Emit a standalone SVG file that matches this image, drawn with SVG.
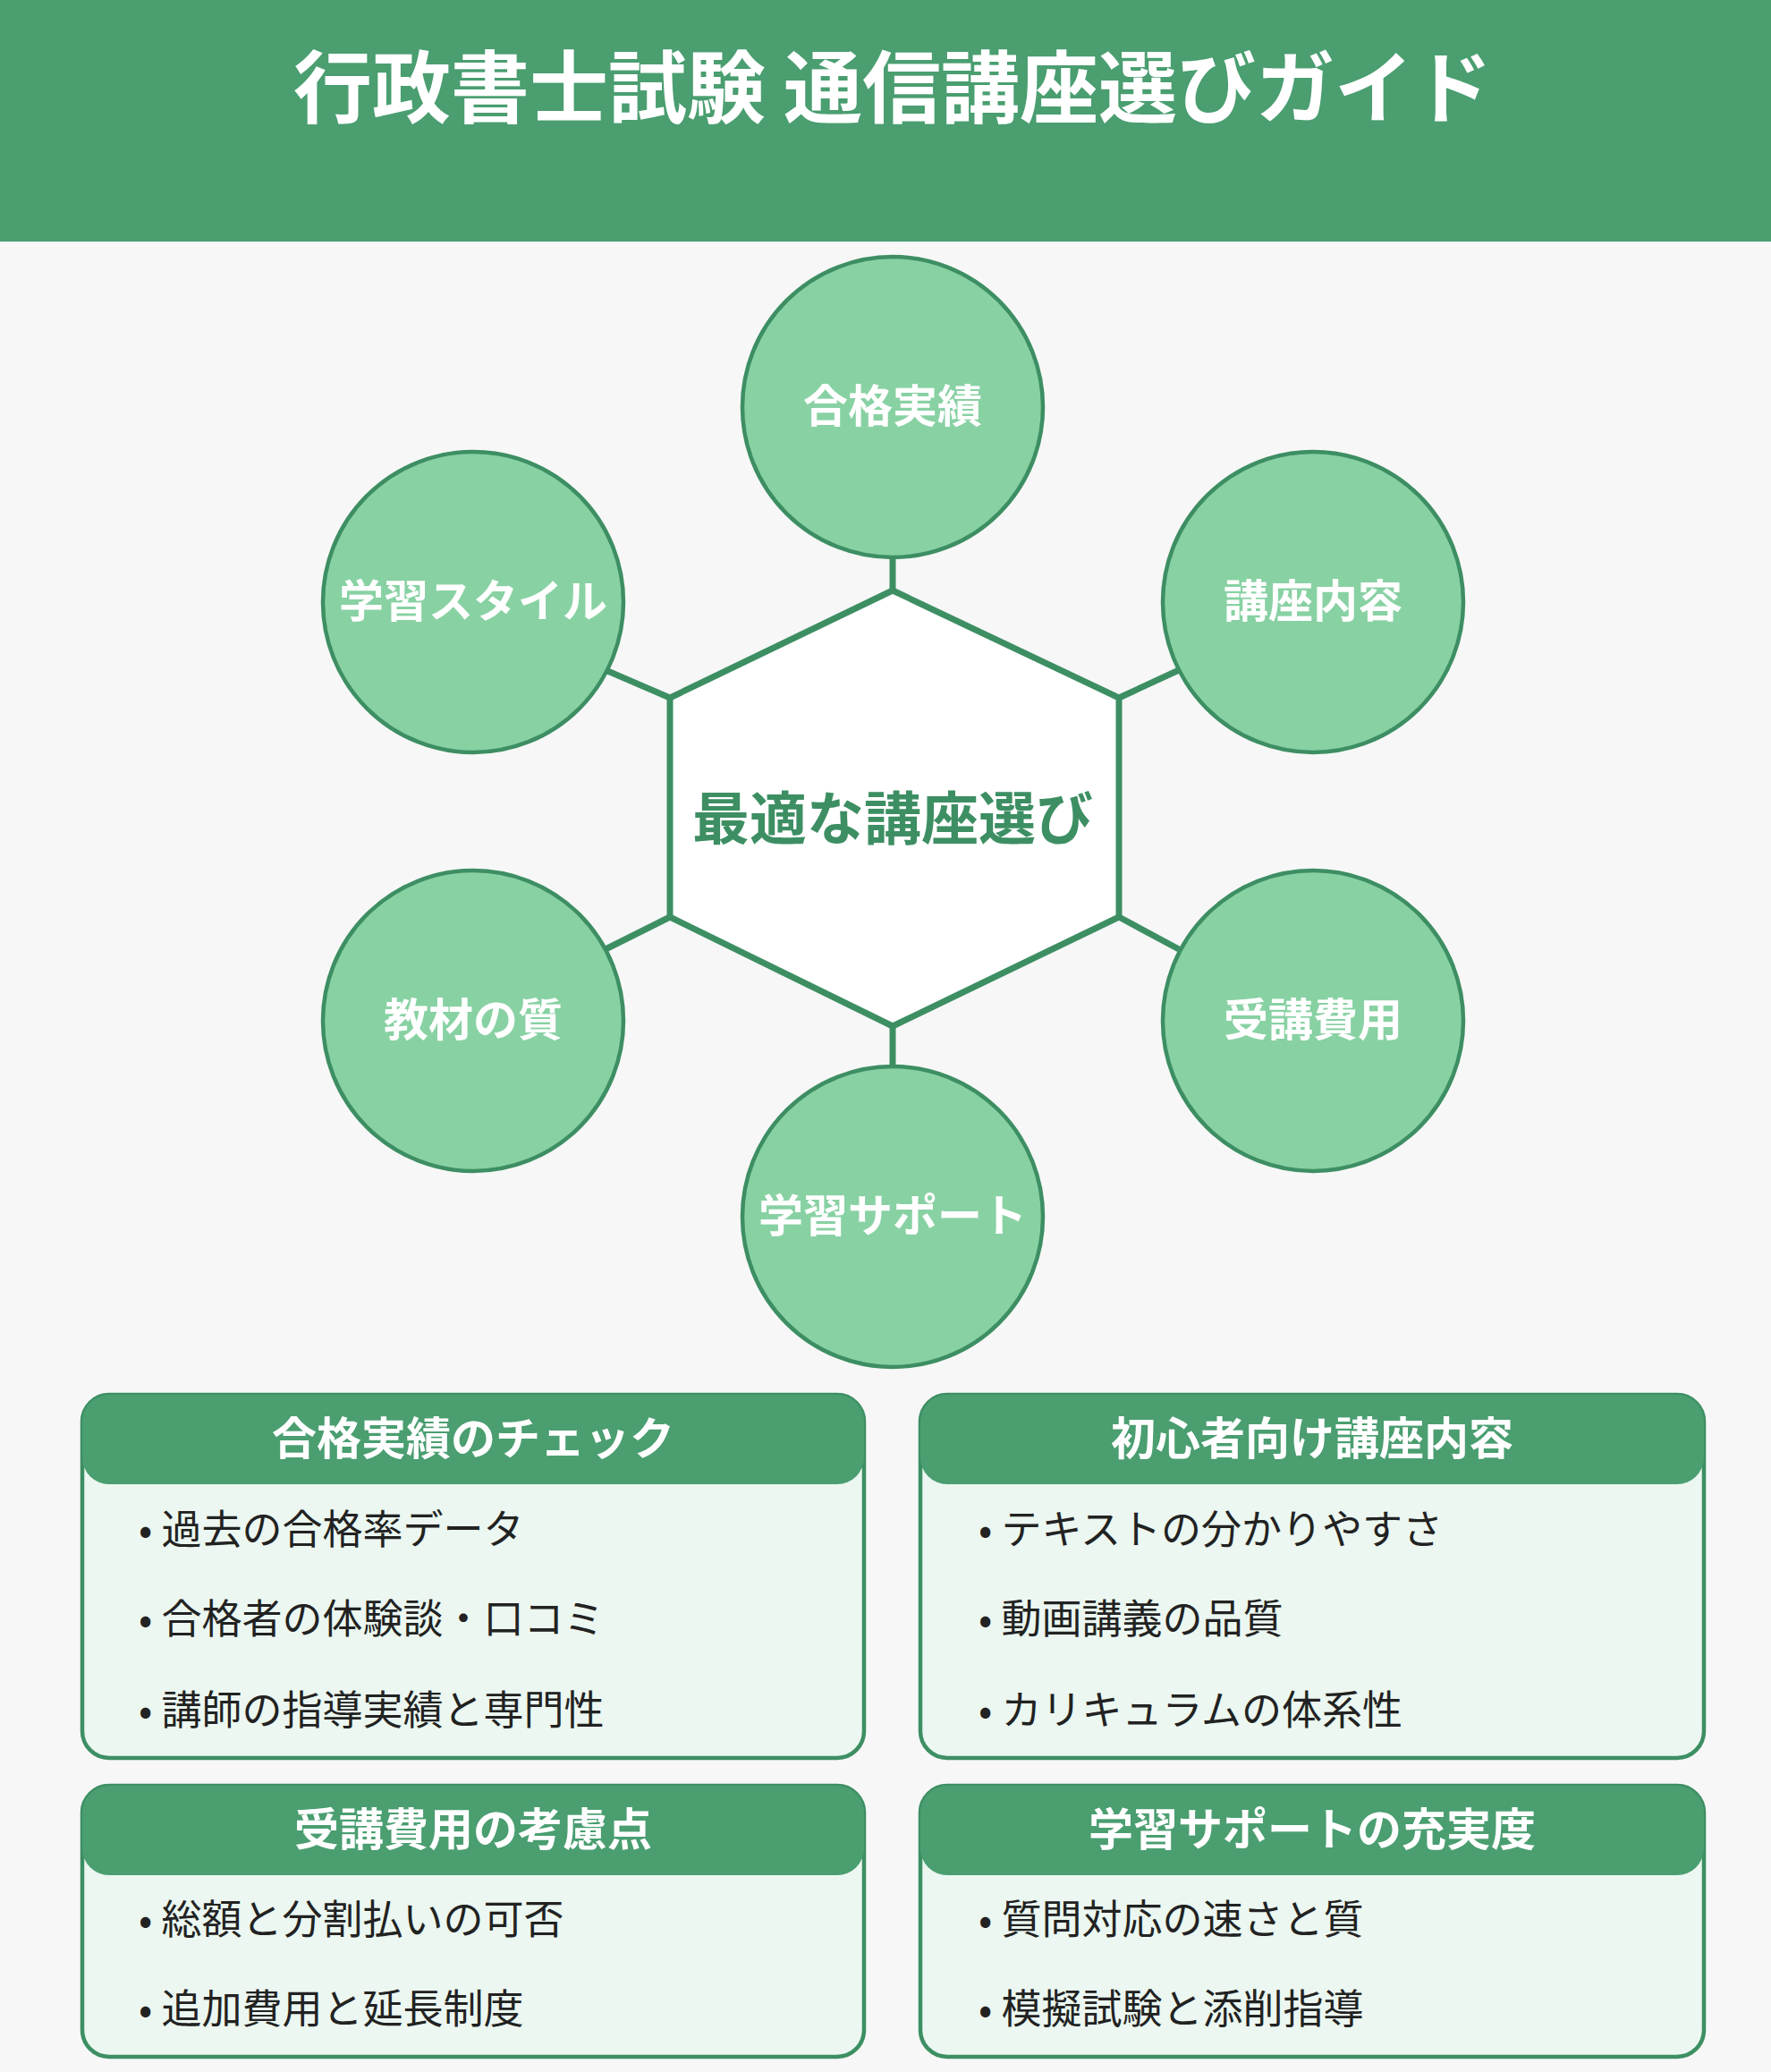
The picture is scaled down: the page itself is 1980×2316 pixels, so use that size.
<svg xmlns="http://www.w3.org/2000/svg" width="1980" height="2316" viewBox="0 0 1980 2316">
<style>
text{font-family:"Noto Sans CJK JP","Noto Sans",sans-serif}
.c{fill:#88d1a3;stroke:#3d8f63;stroke-width:4.5}
.ct{fill:#fff;font-size:50px;font-weight:bold;text-anchor:middle}
.ln{stroke:#3d8f63;stroke-width:7}
.card{fill:#ebf7f0;stroke:#3d8f63;stroke-width:4.5}
.hd{fill:#4a9e70}
.ht{fill:#fff;font-size:50px;font-weight:bold;text-anchor:middle}
.it{fill:#222;font-size:45px}
</style>
<rect width="1980" height="2316" fill="#f7f7f7"/>
<g id="header"><rect width="1980" height="270" fill="#4a9e70"/>
<text x="998" y="130" font-size="88" font-weight="bold" fill="#fff" text-anchor="middle">行政書士試験 通信講座選びガイド</text></g>
<g id="connectors">
<line class="ln" x1="998" y1="622" x2="998" y2="660"/>
<line class="ln" x1="677" y1="749" x2="749" y2="780"/>
<line class="ln" x1="1318" y1="749" x2="1251" y2="780"/>
<line class="ln" x1="677" y1="1061" x2="749" y2="1025"/>
<line class="ln" x1="1318" y1="1061" x2="1251" y2="1025"/>
<line class="ln" x1="998" y1="1147" x2="998" y2="1194"/>
</g>
<g id="center"><polygon points="998,660 1251,780 1251,1025 998,1147 749,1025 749,780" fill="#fff" stroke="#3d8f63" stroke-width="7"/>
<text x="998" y="938" font-size="64" font-weight="bold" fill="#3d8f63" text-anchor="middle">最適な講座選び</text></g>
<g id="n1"><circle class="c" cx="998" cy="455" r="168"/><text class="ct" x="998" y="472">合格実績</text></g>
<g id="n2"><circle class="c" cx="529" cy="673" r="168"/><text class="ct" x="529" y="690">学習スタイル</text></g>
<g id="n3"><circle class="c" cx="1468" cy="673" r="168"/><text class="ct" x="1468" y="690">講座内容</text></g>
<g id="n4"><circle class="c" cx="529" cy="1141" r="168"/><text class="ct" x="529" y="1158">教材の質</text></g>
<g id="n5"><circle class="c" cx="1468" cy="1141" r="168"/><text class="ct" x="1468" y="1158">受講費用</text></g>
<g id="n6"><circle class="c" cx="998" cy="1360" r="168"/><text class="ct" x="998" y="1377">学習サポート</text></g>
<g id="card1"><rect class="card" x="92" y="1559" width="874" height="406" rx="30"/><rect class="hd" x="92" y="1559" width="874" height="100" rx="30"/>
<text class="ht" x="529" y="1626">合格実績のチェック</text>
<text class="it" x="155" y="1726">• 過去の合格率データ</text><text class="it" x="155" y="1826">• 合格者の体験談・口コミ</text><text class="it" x="155" y="1928">• 講師の指導実績と専門性</text></g>
<g id="card2"><rect class="card" x="1029" y="1559" width="876" height="406" rx="30"/><rect class="hd" x="1029" y="1559" width="876" height="100" rx="30"/>
<text class="ht" x="1467" y="1626">初心者向け講座内容</text>
<text class="it" x="1094" y="1726">• テキストの分かりやすさ</text><text class="it" x="1094" y="1826">• 動画講義の品質</text><text class="it" x="1094" y="1928">• カリキュラムの体系性</text></g>
<g id="card3"><rect class="card" x="92" y="1996" width="874" height="303" rx="30"/><rect class="hd" x="92" y="1996" width="874" height="100" rx="30"/>
<text class="ht" x="529" y="2063">受講費用の考慮点</text>
<text class="it" x="155" y="2162">• 総額と分割払いの可否</text><text class="it" x="155" y="2262">• 追加費用と延長制度</text></g>
<g id="card4"><rect class="card" x="1029" y="1996" width="876" height="303" rx="30"/><rect class="hd" x="1029" y="1996" width="876" height="100" rx="30"/>
<text class="ht" x="1467" y="2063">学習サポートの充実度</text>
<text class="it" x="1094" y="2162">• 質問対応の速さと質</text><text class="it" x="1094" y="2262">• 模擬試験と添削指導</text></g>
</svg>
